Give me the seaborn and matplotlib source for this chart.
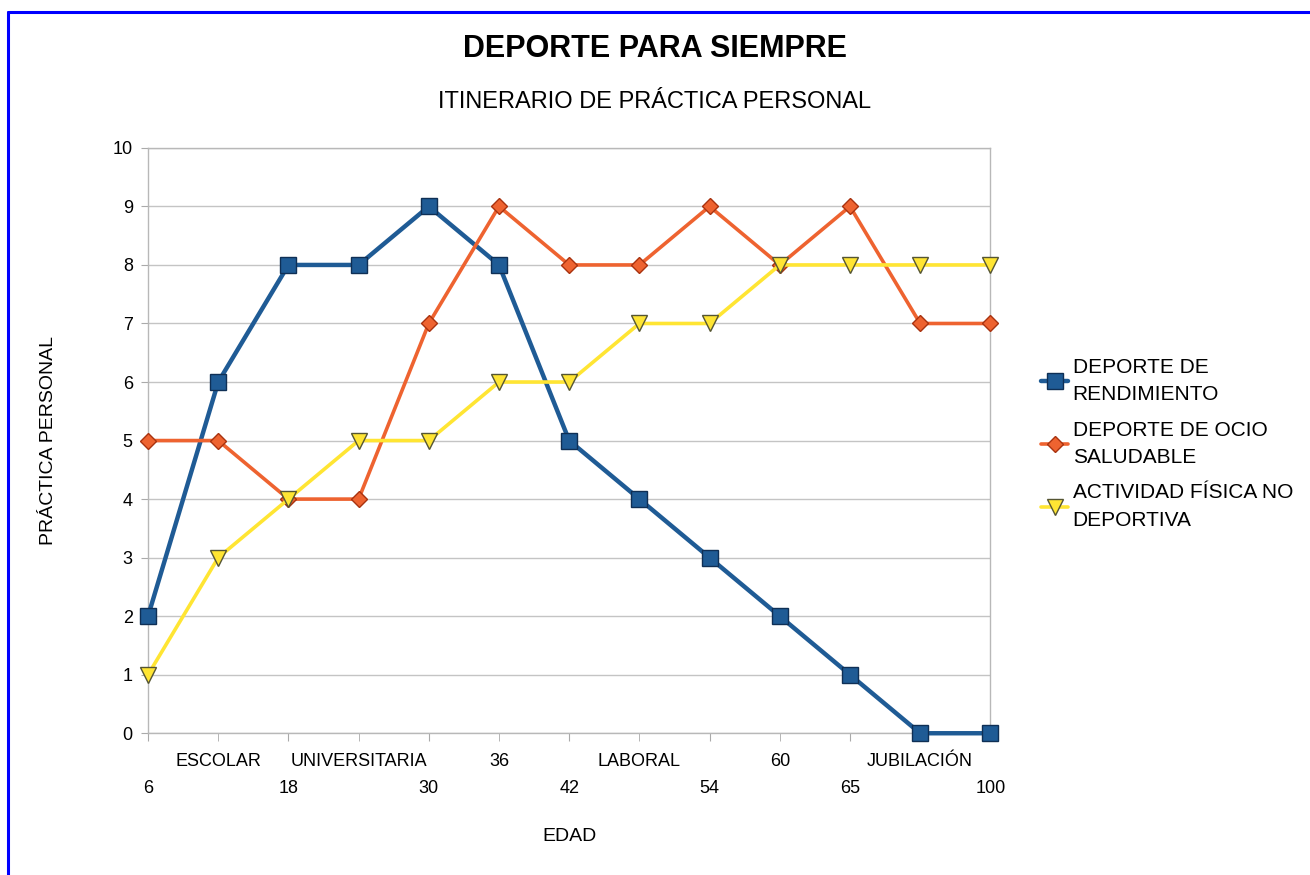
import matplotlib
matplotlib.use("Agg")
import matplotlib.pyplot as plt
from matplotlib.lines import Line2D
import seaborn as sns
import pandas as pd

# Data
posiciones = list(range(13))
etiquetas_abajo = ["6", "18", "30", "42", "54", "65", "100"]
etiquetas_arriba = ["ESCOLAR", "UNIVERSITARIA", "36", "LABORAL", "60", "JUBILACIÓN"]
rendimiento = [2, 6, 8, 8, 9, 8, 5, 4, 3, 2, 1, 0, 0]
ocio = [5, 5, 4, 4, 7, 9, 8, 8, 9, 8, 9, 7, 7]
actividad = [1, 3, 4, 5, 5, 6, 6, 7, 7, 8, 8, 8, 8]
series_nombres = ["DEPORTE DE\nRENDIMIENTO", "DEPORTE DE OCIO\nSALUDABLE", "ACTIVIDAD FÍSICA NO\nDEPORTIVA"]

sns.set_style("white")
plt.rcParams['font.family'] = ['Liberation Sans', 'DejaVu Sans']
plt.rcParams['text.color'] = 'black'
plt.rcParams['axes.labelcolor'] = 'black'
plt.rcParams['xtick.color'] = 'black'
plt.rcParams['ytick.color'] = 'black'

fig = plt.figure(figsize=(13.1, 8.75), dpi=100)
ax = fig.add_axes([0.113, 0.162, 0.643, 0.669])

estilos = [
    (rendimiento, "#1F5B95", "s", 11, 3.2, "#0F2F55"),
    (ocio, "#EE6330", "D", 8, 2.6, "#A8320F"),
    (actividad, "#FFE533", "v", 11, 2.6, "#555533"),
]
for (vals, color, marker, ms, lw, edge), nombre in zip(estilos, series_nombres):
    df = pd.DataFrame({"x": posiciones, "y": vals})
    sns.lineplot(data=df, x="x", y="y", ax=ax, color=color, linewidth=lw,
                 marker=marker, markersize=ms, markeredgecolor=edge,
                 markeredgewidth=1.0, label=nombre, zorder=3, clip_on=False)

ax.set_xlim(0, 12)
ax.set_ylim(0, 10)
ax.set_yticks(range(0, 11))
ax.set_xticks(posiciones[0::2], labels=etiquetas_abajo)
ax.set_xticks(posiciones[1::2], labels=etiquetas_arriba, minor=True)
ax.tick_params(axis="x", which="major", length=6, pad=28, labelsize=13, color="#AAAAAA", labelcolor="black")
ax.tick_params(axis="x", which="minor", length=6, pad=8, labelsize=13, color="#AAAAAA", labelcolor="black")
ax.tick_params(axis="y", length=5, pad=6, labelsize=13, color="#AAAAAA", labelcolor="black", left=True)
ax.tick_params(axis="x", bottom=True, which="both")
ax.grid(axis="y", color="#C4C4C4", linewidth=1)
for s in ax.spines.values():
    s.set_color("#B8B8B8")
    s.set_linewidth(1)

ax.set_xlabel("EDAD", fontsize=14, labelpad=22, color="black")
ax.set_ylabel("PRÁCTICA PERSONAL", fontsize=14, labelpad=40, color="black")

fig.text(0.5, 0.944, "DEPORTE PARA SIEMPRE", ha="center", va="center",
         fontsize=22, fontweight="bold", color="black")
fig.text(0.5, 0.883, "ITINERARIO DE PRÁCTICA PERSONAL", ha="center", va="center",
         fontsize=17, color="black")

leg = ax.legend(loc="center left", bbox_to_anchor=(0.787, 0.493), bbox_transform=fig.transFigure,
                frameon=False, fontsize=15, handlelength=1.3, handletextpad=0.2,
                labelspacing=0.8, borderpad=0)
for t in leg.get_texts():
    t.set_linespacing(1.55)
    t.set_color("black")

# blue frame lines (top and left)
fig.add_artist(Line2D([0.006, 1], [0.986, 0.986], color="#0000FF", linewidth=2.2, transform=fig.transFigure))
fig.add_artist(Line2D([0.006, 0.006], [0, 0.986], color="#0000FF", linewidth=2.2, transform=fig.transFigure))

fig.savefig("out.png", dpi=100)
